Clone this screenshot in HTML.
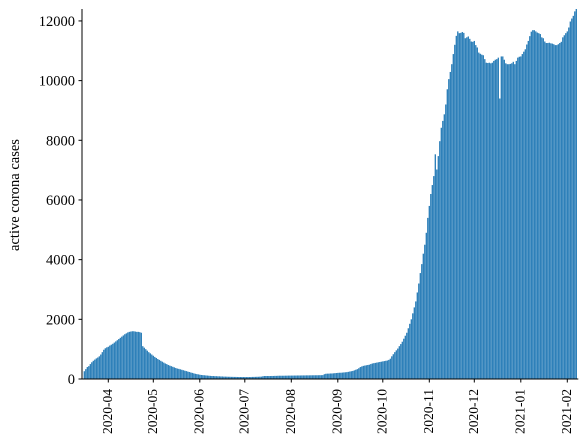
<!DOCTYPE html>
<html><head><meta charset="utf-8">
<style>
html,body{margin:0;padding:0;background:#fff;}
svg{display:block;font-family:"Liberation Serif",serif;}
</style></head>
<body>
<svg id="chart" width="588" height="445" viewBox="0 0 588 445" xmlns="http://www.w3.org/2000/svg">
<g id="bars"></g>
<g id="axes"></g>
<text transform="translate(19,195) rotate(-90)" text-anchor="middle" font-size="14.5" fill="#000">active corona cases</text>
</svg>
<script>
const startDate = [2020, 2, 16];
const values = [
260,330,400,430,500,560,610,650,690,720,760,820,900,980,1030,1060,1080,1120,1150,
1180,1220,1260,1300,1340,1380,1420,1460,1500,1530,
1560,1580,1590,1600,1600,1590,1580,1580,1570,1550,
1100,1050,1000,950,900,860,820,780,740,705,
670,640,610,580,550,520,500,470,450,
430,410,390,370,350,340,325,310,
295,280,265,250,235,220,205,190,175,
165,155,145,135,130,125,120,115,110,
105,100,100,95,95,90,90,85,85,80,80,78,75,75,72,72,70,70,
68,67,67,66,66,65,65,65,66,66,
70,70,72,74,75,78,80,90,100,100,100,100,100,102,102,105,105,108,110,110,
110,110,112,112,114,114,115,115,116,116,118,118,118,120,120,120,122,122,122,124,124,125,125,126,126,128,128,130,
160,175,180,180,185,185,190,195,200,
205,210,210,215,220,225,230,240,250,260,
270,290,310,330,360,
400,420,440,450,460,470,480,
500,520,530,540,550,560,
570,580,590,600,610,620,640,680,
760,830,900,960,1020,1100,1170,1250,1350,1450,1550,1700,1850,2000,2200,2400,2600,
2900,3200,3550,3850,4200,4500,4900,5400,5800,6200,6500,6800,7530,7020,7470,7970,8420,8650,8870,9200,
9710,10050,10290,10550,10890,11200,11500,11650,11590,11600,11630,11600,11420,11450,11480,11400,
11310,11300,11330,11190,11110,10940,10900,10870,10850,10720,10600,10590,
10600,10580,10600,10660,10700,10720,10770,9400,10810,10810,10700,10580,10550,10550,10560,
10580,10630,10550,10660,10770,10800,10810,10890,10970,
11050,11210,11330,11490,11640,11690,11690,11650,
11610,11590,11560,11450,11420,11310,11260,11260,11270,11250,
11240,11220,11190,11190,11220,11260,
11300,11450,11520,11590,11650,11780,11980,12080,12170,12320,12400
];
const monthLabels = ["2020-04","2020-05","2020-06","2020-07","2020-08","2020-09","2020-10","2020-11","2020-12","2021-01","2021-02"];
const yTicks = [0,2000,4000,6000,8000,10000,12000];

const NS = "http://www.w3.org/2000/svg";
const X0 = 108.3, PX_PER_DAY = 1.5, REF_DAY = Date.UTC(2020,3,1);
const Y0 = 379, Y_TOP = 9, YMAX = 12400;
const DAY = 86400000;
const start = Date.UTC(startDate[0], startDate[1], startDate[2]);
function xDay(ms){ return X0 + (ms - REF_DAY)/DAY*PX_PER_DAY; }
function y(v){ return Y0 - v/YMAX*(Y0-Y_TOP); }
function mk(tag, attrs, parent){ const e=document.createElementNS(NS,tag); for(const k in attrs) e.setAttribute(k,attrs[k]); parent.appendChild(e); return e; }

const bars = document.getElementById('bars');
const bw = 0.85*PX_PER_DAY;
values.forEach((v,i)=>{
  const cx = xDay(start + i*DAY);
  const r = mk('rect',{x:(cx-bw/2).toFixed(2), y:y(v).toFixed(2), width:bw.toFixed(2), height:(Y0-y(v)).toFixed(2), fill:'#1f77b4'}, bars);
  
  
});

const axes = document.getElementById('axes');
const lastX = xDay(start + (values.length-1)*DAY) + 2;
const ys = mk('line',{x1:82,y1:Y_TOP,x2:82,y2:Y0,stroke:'#000','stroke-width':1}, axes);


const xs = mk('line',{x1:82,y1:Y0,x2:lastX,y2:Y0,stroke:'#000','stroke-width':1}, axes);



yTicks.forEach(t=>{
  const yy = y(t);
  mk('line',{x1:78.5,y1:yy,x2:82,y2:yy,stroke:'#000','stroke-width':1}, axes);
  const tx = mk('text',{x:75,y:yy+5,'text-anchor':'end','font-size':'14.5',fill:'#000'}, axes);
  tx.textContent = t;
  
  
});

monthLabels.forEach(m=>{
  const [yr,mo] = m.split('-').map(Number);
  const xx = xDay(Date.UTC(yr, mo-1, 1));
  mk('line',{x1:xx,y1:Y0,x2:xx,y2:Y0+3.5,stroke:'#000','stroke-width':1}, axes);
  const tx = mk('text',{transform:`translate(${(xx+3.5).toFixed(2)},389) rotate(-90)`,'text-anchor':'end','font-size':'13.5',fill:'#000'}, axes);
  tx.textContent = m;
  
  
});
</script>
</body></html>
